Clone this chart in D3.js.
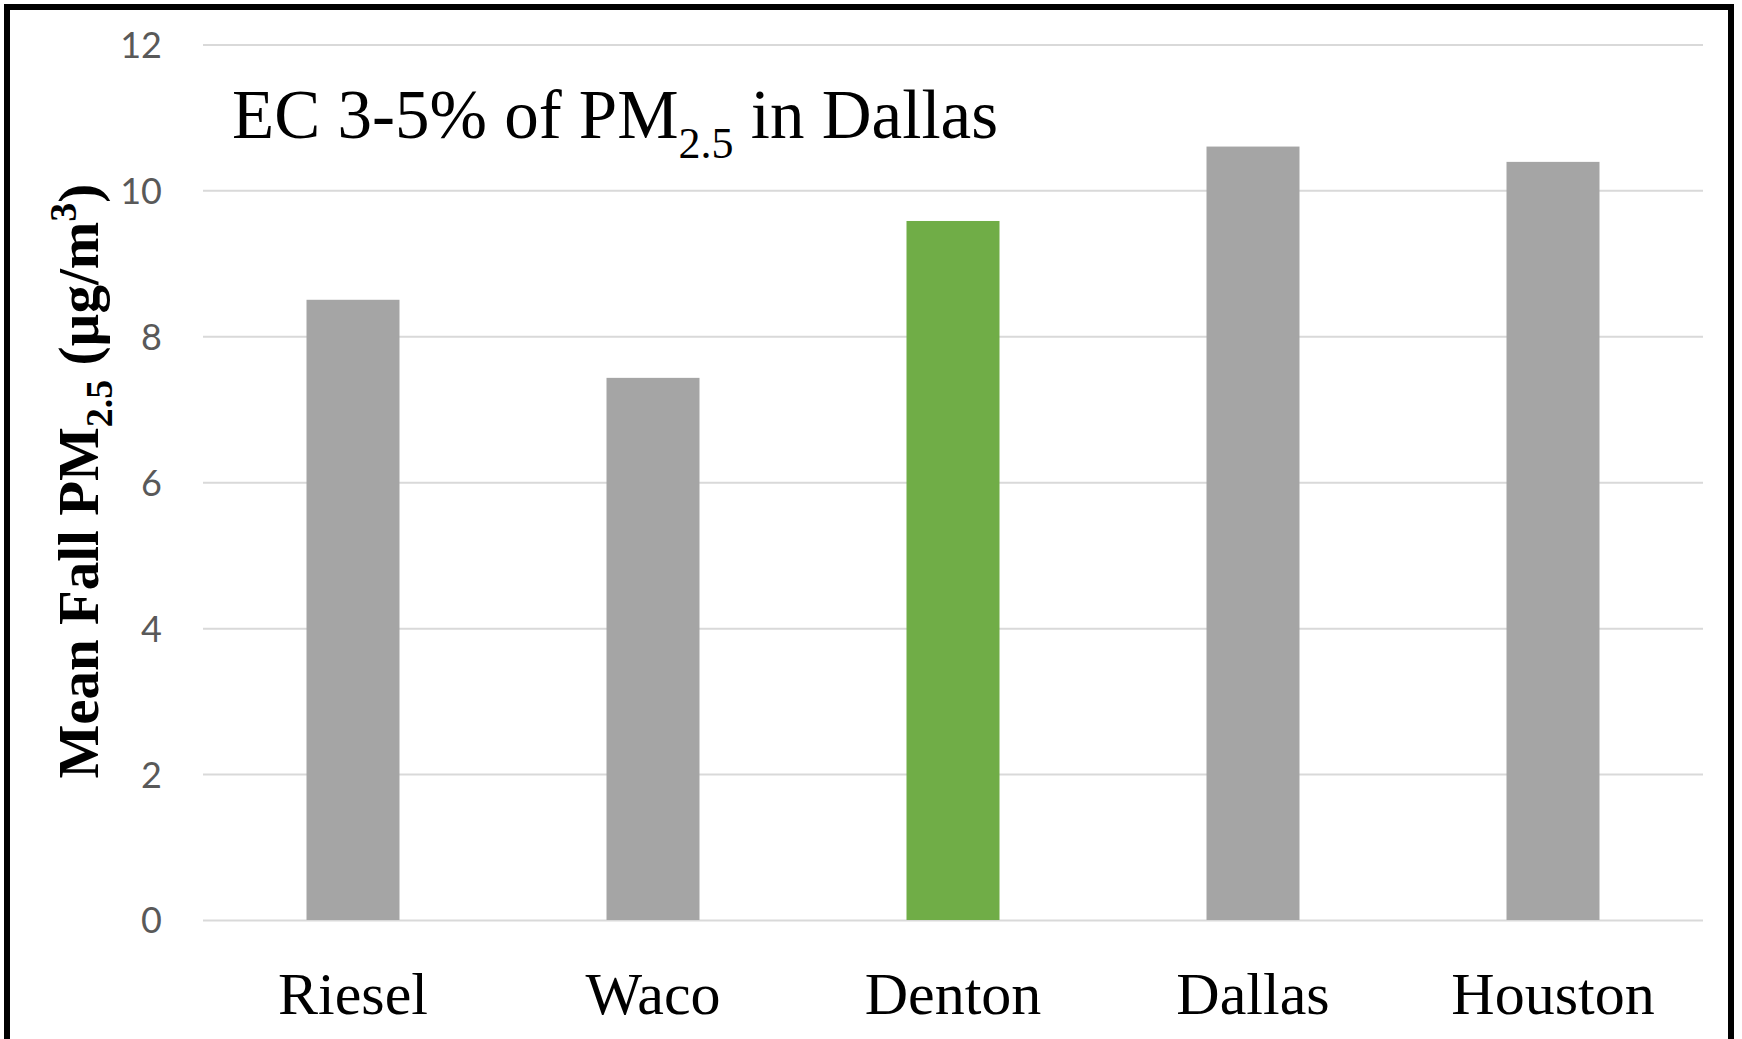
<!DOCTYPE html>
<html>
<head>
<meta charset="utf-8">
<script src="https://cdn.jsdelivr.net/npm/d3@7"></script>
<style>
  html, body { margin: 0; padding: 0; background: #fff; }
  svg { display: block; }
</style>
</head>
<body>
<svg id="chart" width="1742" height="1039"></svg>
<script>
// Mean fall PM2.5 by site
const sites = ["Riesel", "Waco", "Denton", "Dallas", "Houston"];
const meanFallPM25 = [8.5, 7.43, 9.58, 10.6, 10.39];
const highlightSite = "Denton";
const yTicks = [0, 2, 4, 6, 8, 10, 12];

const W = 1742, H = 1039;
const plot = { left: 203, right: 1703, top: 44.4, bottom: 920 };

const svg = d3.select("#chart");

// outer frame (runs off the bottom edge)
svg.append("rect")
  .attr("x", 7).attr("y", 7)
  .attr("width", 1724).attr("height", 1100)
  .attr("fill", "#fff")
  .attr("stroke", "#000")
  .attr("stroke-width", 6);

const x = d3.scaleBand()
  .domain(sites)
  .range([plot.left, plot.right])
  .paddingInner(0.69)
  .paddingOuter(0.345);

const y = d3.scaleLinear()
  .domain([0, 12])
  .range([plot.bottom, plot.top]);

// horizontal gridlines
const grid = svg.append("g")
  .attr("transform", `translate(${plot.left},0)`)
  .call(d3.axisLeft(y).tickValues(yTicks).tickSize(-(plot.right - plot.left)).tickFormat(""));
grid.select(".domain").remove();
grid.selectAll(".tick line")
  .attr("stroke", "#d9d9d9")
  .attr("stroke-width", 2);

// y tick labels
const yAxis = svg.append("g")
  .attr("transform", `translate(162,0)`)
  .call(d3.axisLeft(y).tickValues(yTicks).tickSize(0).tickPadding(0));
yAxis.select(".domain").remove();
yAxis.selectAll(".tick text")
  .attr("font-family", "Lato, 'Liberation Sans', sans-serif")
  .attr("font-size", 36)
  .attr("fill", "#595959")
  .attr("dy", "0.36em");

// bars
svg.append("g")
  .selectAll("rect")
  .data(sites.map((s, i) => ({ site: s, value: meanFallPM25[i] })))
  .join("rect")
  .attr("x", d => x(d.site))
  .attr("width", x.bandwidth())
  .attr("y", d => y(d.value))
  .attr("height", d => y(0) - y(d.value))
  .attr("fill", d => d.site === highlightSite ? "#70ad47" : "#a5a5a5");

// category labels
const xAxis = svg.append("g")
  .attr("transform", `translate(0,${plot.bottom})`)
  .call(d3.axisBottom(x).tickSize(0));
xAxis.select(".domain").remove();
xAxis.selectAll(".tick text")
  .attr("font-family", "'Liberation Serif', 'DejaVu Serif', serif")
  .attr("font-size", 60)
  .attr("fill", "#000")
  .attr("dy", null)
  .attr("y", 94);

// chart title with subscript
const title = svg.append("text")
  .attr("x", 232)
  .attr("y", 138)
  .attr("font-family", "'Liberation Serif', 'DejaVu Serif', serif")
  .attr("font-size", 69)
  .attr("fill", "#000");
title.append("tspan").text("EC 3-5% of PM");
title.append("tspan").attr("font-size", 44).attr("dy", 20).text("2.5");
title.append("tspan").attr("dy", -20).text(" in Dallas");

// y axis title
const yTitle = svg.append("text")
  .attr("transform", `translate(98,${(plot.top + plot.bottom) / 2 - 1}) rotate(-90)`)
  .attr("text-anchor", "middle")
  .attr("font-family", "'Liberation Serif', 'DejaVu Serif', serif")
  .attr("font-weight", "bold")
  .attr("font-size", 57)
  .attr("fill", "#000");
yTitle.append("tspan").text("Mean Fall PM");
yTitle.append("tspan").attr("font-size", 38).attr("dy", 14).text("2.5");
yTitle.append("tspan").attr("dy", -14).text(" (µg/m");
yTitle.append("tspan").attr("font-size", 38).attr("dy", -22).text("3");
yTitle.append("tspan").attr("dy", 22).text(")");
</script>
</body>
</html>
